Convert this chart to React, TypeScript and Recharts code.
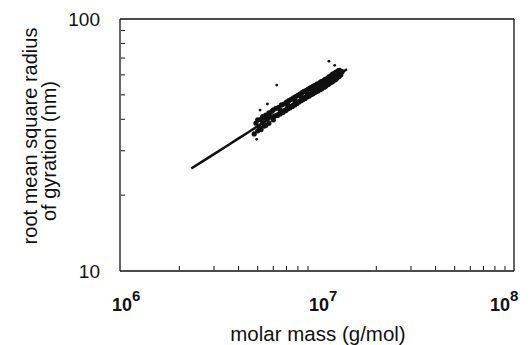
import { ScatterChart, Scatter, XAxis, YAxis, ReferenceLine } from "recharts";

// molar mass (g/mol) vs. rms radius of gyration (nm)
const fitMass = [2.3e6, 2.6e6, 3e6, 3.5e6, 4e6, 4.5e6, 5e6, 6e6, 7e6, 8e6, 9e6, 1e7, 1.1e7, 1.2e7, 1.3e7, 1.42e7];
const fitRadius = [25.5, 27.1, 29.1, 31.4, 33.6, 35.6, 37.6, 41.2, 44.4, 47.5, 50.4, 53.1, 55.7, 58.2, 60.6, 63.2];

// scatter points, mass in units of 1e6 g/mol
const pointMass = [
  4.8, 4.9, 5.0, 5.0, 5.1, 5.2, 5.2, 5.3, 5.4, 5.4, 5.5, 5.5, 5.6, 5.7, 5.7, 5.8, 5.9, 6.0, 6.0, 6.1,
  6.2, 6.3, 6.4, 6.5, 6.6, 6.7, 6.8, 6.9, 7.0, 7.1, 7.2, 7.3, 7.4, 7.5, 7.6, 7.7, 7.8, 7.9, 8.0, 8.1,
  8.2, 8.3, 8.4, 8.5, 8.6, 8.7, 8.8, 8.9, 9.0, 9.1, 9.2, 9.3, 9.4, 9.5, 9.6, 9.7, 9.8, 9.9, 10.0, 10.1,
  10.3, 10.4, 10.5, 10.6, 10.8, 10.9, 11.0, 11.1, 11.3, 11.4, 11.5, 11.6, 11.8, 11.9, 12.0, 12.1, 12.3, 12.4, 12.5, 12.6,
  12.8, 12.9, 13.0, 13.2, 13.4,
  5.3, 5.9, 6.5, 7.1, 7.7, 8.3, 8.9, 9.5, 10.2, 10.9, 11.6, 12.3, 13.1,
];
const pointRadius = [
  35.0, 38.6, 36.0, 39.8, 37.2, 40.0, 36.4, 41.0, 37.6, 40.6, 41.6, 37.9, 40.2, 42.4, 38.6, 41.0, 43.0, 39.8, 43.6, 41.2,
  44.2, 41.4, 44.6, 42.0, 45.6, 42.6, 46.0, 43.2, 46.8, 43.9, 47.4, 44.4, 48.0, 45.0, 48.6, 45.6, 49.2, 46.2, 49.8, 46.8,
  50.4, 47.4, 51.0, 47.9, 51.6, 48.4, 52.0, 49.0, 52.6, 49.4, 53.2, 50.0, 53.6, 50.4, 54.2, 51.0, 54.6, 51.4, 55.2, 51.8,
  55.8, 52.4, 56.4, 53.0, 57.0, 53.6, 57.6, 54.2, 58.2, 55.0, 59.0, 55.6, 59.6, 56.2, 60.4, 56.8, 61.0, 57.4, 61.6, 58.2,
  62.2, 59.0, 62.6, 60.0, 61.8,
  38.8, 40.8, 43.6, 45.6, 47.8, 49.2, 50.8, 52.2, 53.8, 55.6, 57.4, 59.2, 61.0,
];

// stray specks off the band
const strayMass = [11.5, 12.3, 6.24, 5.6, 5.14, 4.94, 7.0];
const strayRadius = [68.0, 65.5, 54.7, 46.0, 43.5, 33.3, 42.9];

const xTicks = [
  1e6, 2e6, 3e6, 4e6, 5e6, 6e6, 7e6, 8e6, 9e6,
  1e7, 2e7, 3e7, 4e7, 5e7, 6e7, 7e7, 8e7, 9e7, 1e8,
];
const yTicks = [10, 20, 30, 40, 50, 60, 70, 80, 90, 100];
const xMajor = [1e6, 1e7, 1e8];
const yMajor = [10, 100];

const fitData = fitMass.map((m, i) => ({ x: m, y: fitRadius[i] }));
const pointData = pointMass.map((m, i) => ({ x: m * 1e6, y: pointRadius[i] }));
const strayData = strayMass.map((m, i) => ({ x: m * 1e6, y: strayRadius[i] }));

const font = "'Liberation Sans', Arial, sans-serif";

function XTick(props: any) {
  const { x, y, payload } = props;
  const v = payload.value;
  if (!xMajor.includes(v)) {
    return <line x1={x} y1={y - 1} x2={x} y2={y - 5} stroke="#111" strokeWidth={1} />;
  }
  const exp = Math.round(Math.log10(v));
  const dx = v === 1e8 ? -24 : -8;
  return (
    <text x={x + dx} y={y + 40} fontFamily={font} fontSize={18} fontWeight="bold" fill="#111">
      10
      <tspan dy={-10} fontSize={15}>
        {exp}
      </tspan>
    </text>
  );
}

function YTick(props: any) {
  const { x, y, payload } = props;
  const v = payload.value;
  if (!yMajor.includes(v)) {
    return <line x1={x + 1} y1={y} x2={x + 5} y2={y} stroke="#111" strokeWidth={1} />;
  }
  return (
    <text x={x - 20} y={y + 7} textAnchor="end" fontFamily={font} fontSize={19} fill="#111">
      {v}
    </text>
  );
}

const Dot = (props: any) => <circle cx={props.cx} cy={props.cy} r={2.6} fill="#111" />;
const Speck = (props: any) => <circle cx={props.cx} cy={props.cy} r={1.4} fill="#111" />;

export default function App() {
  return (
    <div style={{ position: "absolute", left: 0, top: 0, background: "#fff" }}>
      <ScatterChart width={531} height={345} margin={{ top: 19, right: 17, bottom: 73, left: 119 }}>
        <XAxis
          dataKey="x"
          type="number"
          scale="log"
          domain={[1e6, 1e8]}
          ticks={xTicks}
          interval={0}
          allowDataOverflow
          height={1}
          tickSize={0}
          tickMargin={0}
          tickLine={false}
          axisLine={{ stroke: "#111", strokeWidth: 1.3 }}
          tick={<XTick />}
        />
        <YAxis
          dataKey="y"
          type="number"
          scale="log"
          domain={[10, 100]}
          ticks={yTicks}
          interval={0}
          allowDataOverflow
          width={1}
          tickSize={0}
          tickMargin={0}
          tickLine={false}
          axisLine={{ stroke: "#111", strokeWidth: 1.3 }}
          tick={<YTick />}
        />
        <ReferenceLine x={1e8} stroke="#111" strokeWidth={1.3} />
        <ReferenceLine y={100} stroke="#111" strokeWidth={1.3} />
        <Scatter
          data={fitData}
          line={{ stroke: "#111", strokeWidth: 2.5 }}
          shape={() => null}
          isAnimationActive={false}
        />
        <Scatter data={pointData} shape={<Dot />} isAnimationActive={false} />
        <Scatter data={strayData} shape={<Speck />} isAnimationActive={false} />
        <text x={318} y={341} textAnchor="middle" fontFamily={font} fontSize={20.5} fill="#111">
          molar mass (g/mol)
        </text>
        <text
          transform="translate(37,136) rotate(-90)"
          textAnchor="middle"
          fontFamily={font}
          fontSize={20}
          fill="#111"
        >
          root mean square radius
        </text>
        <text
          transform="translate(56,151) rotate(-90)"
          textAnchor="middle"
          fontFamily={font}
          fontSize={20}
          fill="#111"
        >
          of gyration (nm)
        </text>
      </ScatterChart>
    </div>
  );
}
